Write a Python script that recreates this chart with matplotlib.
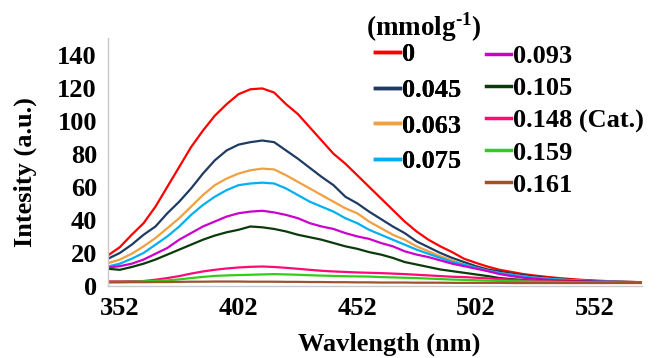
import matplotlib
matplotlib.use("Agg")
import matplotlib.pyplot as plt
import numpy as np

wavelength = list(range(347, 573, 5))  # 347..572

s_0 = [18.5, 23.5, 31, 38, 48, 60, 72, 84, 94, 103, 110, 116, 119, 119.5, 117, 110,
       104, 96, 88, 80, 74, 67, 60, 53, 46, 39, 33, 28, 24, 20.5, 16.5, 14, 11.7, 9.8,
       8.5, 7.2, 6.3, 5.5, 4.8, 4.2, 3.7, 3.3, 3.0, 2.7, 2.5, 2.3]
s_045 = [16.5, 20, 25, 31, 36, 44, 51, 59, 68, 76, 82, 85.5, 87, 88, 87, 82, 77, 71.5,
         66, 61, 54, 50, 45, 40.5, 36, 32, 27, 23.5, 20, 17, 14.5, 12, 10, 8.8, 7.5, 6.5,
         5.7, 4.8, 4.1, 3.7, 3.3, 3.0, 2.8, 2.6, 2.4, 2.3]
s_063 = [13.8, 16, 19.5, 24, 29, 35, 41, 48, 55, 61, 65, 68, 70, 71, 70.5, 67, 63, 59,
         55, 51, 47, 44, 39, 35, 31, 28, 24, 21, 18, 15.5, 13, 11, 9.2, 7.8, 6.8, 5.8, 5,
         4.4, 3.9, 3.5, 3.2, 2.9, 2.7, 2.5, 2.4, 2.3]
s_075 = [11.8, 13.5, 16.5, 20, 25, 30, 36, 43, 49, 54, 58, 61, 62, 62.5, 62, 59, 55, 51,
         48, 45, 41, 38, 34, 31, 28, 25, 22, 19.5, 17, 14.5, 13, 11, 9.2, 7.8, 6.8, 5.8,
         5, 4.4, 3.9, 3.5, 3.2, 2.9, 2.7, 2.5, 2.4, 2.3]
s_093 = [11.2, 12, 13.5, 16, 19.5, 23, 28, 32, 36, 39, 42, 44, 45, 45.5, 44.5, 43, 41,
         38, 36, 34.5, 32, 30, 28.5, 26, 24, 21, 19, 17.5, 15.5, 13.5, 12, 10.5, 9, 7.2,
         6, 5, 4.4, 3.8, 3.4, 3.1, 2.9, 2.7, 2.5, 2.4, 2.3, 2.2]
s_105 = [10.4, 9.8, 11.5, 13.5, 16, 19, 22, 25, 28, 30.5, 32.5, 34, 36, 35.5, 34.5, 33,
         31, 29.5, 28, 26, 24, 22.5, 20.5, 19, 17, 14.5, 13, 11.5, 10, 9, 8, 7, 6, 4.8,
         4.2, 3.6, 3.2, 3.0, 2.9, 2.8, 2.6, 2.5, 2.4, 2.3, 2.2, 2.2]
s_148 = [2.8, 2.8, 2.9, 3.0, 3.8, 4.8, 6, 7.5, 8.8, 9.8, 10.6, 11.2, 11.6, 11.8, 11.5,
         11, 10.4, 9.8, 9.2, 8.8, 8.5, 8.2, 8, 7.8, 7.5, 7.2, 6.8, 6.4, 6, 5.6, 5.4, 5,
         4.6, 4.2, 3.8, 3.4, 3.2, 3, 2.8, 2.7, 2.5, 2.4, 2.4, 2.3, 2.2, 2.2]
s_159 = [2.4, 2.5, 2.6, 2.8, 3.1, 3.4, 4, 4.8, 5.5, 6.1, 6.4, 6.6, 6.8, 7, 7.2, 7, 6.8,
         6.5, 6.3, 6.1, 5.9, 5.8, 5.7, 5.4, 5.2, 5, 4.8, 4.5, 4.2, 3.9, 3.7, 3.5, 3.3,
         3.1, 2.9, 2.8, 2.6, 2.5, 2.4, 2.3, 2.2, 2.1, 2.1, 2.0, 2.0, 2.0]
s_161 = [2.2, 2.2, 2.3, 2.3, 2.4, 2.4, 2.5, 2.6, 2.6, 2.7, 2.7, 2.7, 2.6, 2.6, 2.6,
         2.5, 2.5, 2.4, 2.4, 2.3, 2.3, 2.2, 2.2, 2.1, 2.1, 2.1, 2.0, 2.0, 2.0, 1.9, 1.9,
         1.9, 1.9, 1.9, 1.8, 1.8, 1.8, 1.8, 1.8, 1.8, 1.8, 1.8, 1.8, 1.8, 1.8, 1.8]

labels = ["0", "0.045", "0.063", "0.075", "0.093", "0.105", "0.148 (Cat.)", "0.159", "0.161"]
series = [s_0, s_045, s_063, s_075, s_093, s_105, s_148, s_159, s_161]
colors = ["#FF0000", "#1F3B63", "#F0A040", "#00B0F0", "#CC00CC", "#0B3A0B",
          "#FF0A78", "#33CC1A", "#A0522D"]
xticks = [352, 402, 452, 502, 552]
yticks = [0, 20, 40, 60, 80, 100, 120, 140]

plt.rcParams['font.family'] = ['Liberation Serif', 'DejaVu Serif']
plt.rcParams['font.weight'] = 'bold'
plt.rcParams['mathtext.fontset'] = 'custom'
plt.rcParams['mathtext.rm'] = 'Liberation Serif:bold'
plt.rcParams['mathtext.bf'] = 'Liberation Serif:bold'

W, H = 660, 358
fig = plt.figure(figsize=(W / 100, H / 100), dpi=100)
ax = fig.add_axes([108 / W, 1 - 286 / H, (642 - 108) / W, (286 - 38) / H])

lines = []
for y, c, lab in zip(series, colors, labels):
    ln, = ax.plot(wavelength, y, color=c, lw=1.6, label=lab)
    lines.append(ln)

ax.set_xlim(347, 572)
ax.set_ylim(0, 150)
ax.set_xticks(xticks)
ax.set_yticks(yticks)
fs = 19
ax.tick_params(axis='both', length=0, labelsize=fs)
ax.tick_params(axis='x', pad=8)
ax.tick_params(axis='y', pad=8)
for t in ax.get_xticklabels() + ax.get_yticklabels():
    t.set_fontweight('bold')
for s in ['top', 'right']:
    ax.spines[s].set_visible(False)
for s in ['left', 'bottom']:
    ax.spines[s].set_color('#C8C8C8')
    ax.spines[s].set_linewidth(1.0)

fig.text(389 / W, 1 - 344 / H, "Wavlength (nm)", ha='center', va='center',
         fontsize=fs, fontweight='bold')
fig.text(25 / W, 1 - 172 / H, "Intesity (a.u.)", ha='center', va='center',
         rotation=90, fontsize=fs, fontweight='bold')

fig.text(366 / W, 1 - 27 / H, r"(mmolg$^{\text{-1}}$)", ha='left', va='center',
         fontsize=fs + 0.5, fontweight='bold')

leg1 = fig.legend(handles=lines[:4], loc='upper left',
                  bbox_to_anchor=(375 / W, 1 - 43 / H), frameon=False,
                  prop={'size': fs, 'weight': 'bold'}, borderpad=0, borderaxespad=0,
                  handlelength=0.95, handletextpad=0.08, labelspacing=0.46)
leg2 = fig.legend(handles=lines[4:], loc='upper left',
                  bbox_to_anchor=(486 / W, 1 - 45 / H), frameon=False,
                  prop={'size': fs, 'weight': 'bold'}, borderpad=0, borderaxespad=0,
                  handlelength=0.95, handletextpad=0.08, labelspacing=0.32)
fig.add_artist(leg1)
for lg in (leg1, leg2):
    for h in lg.legend_handles:
        h.set_linewidth(2.5)

fig.savefig("out.png", dpi=100)
